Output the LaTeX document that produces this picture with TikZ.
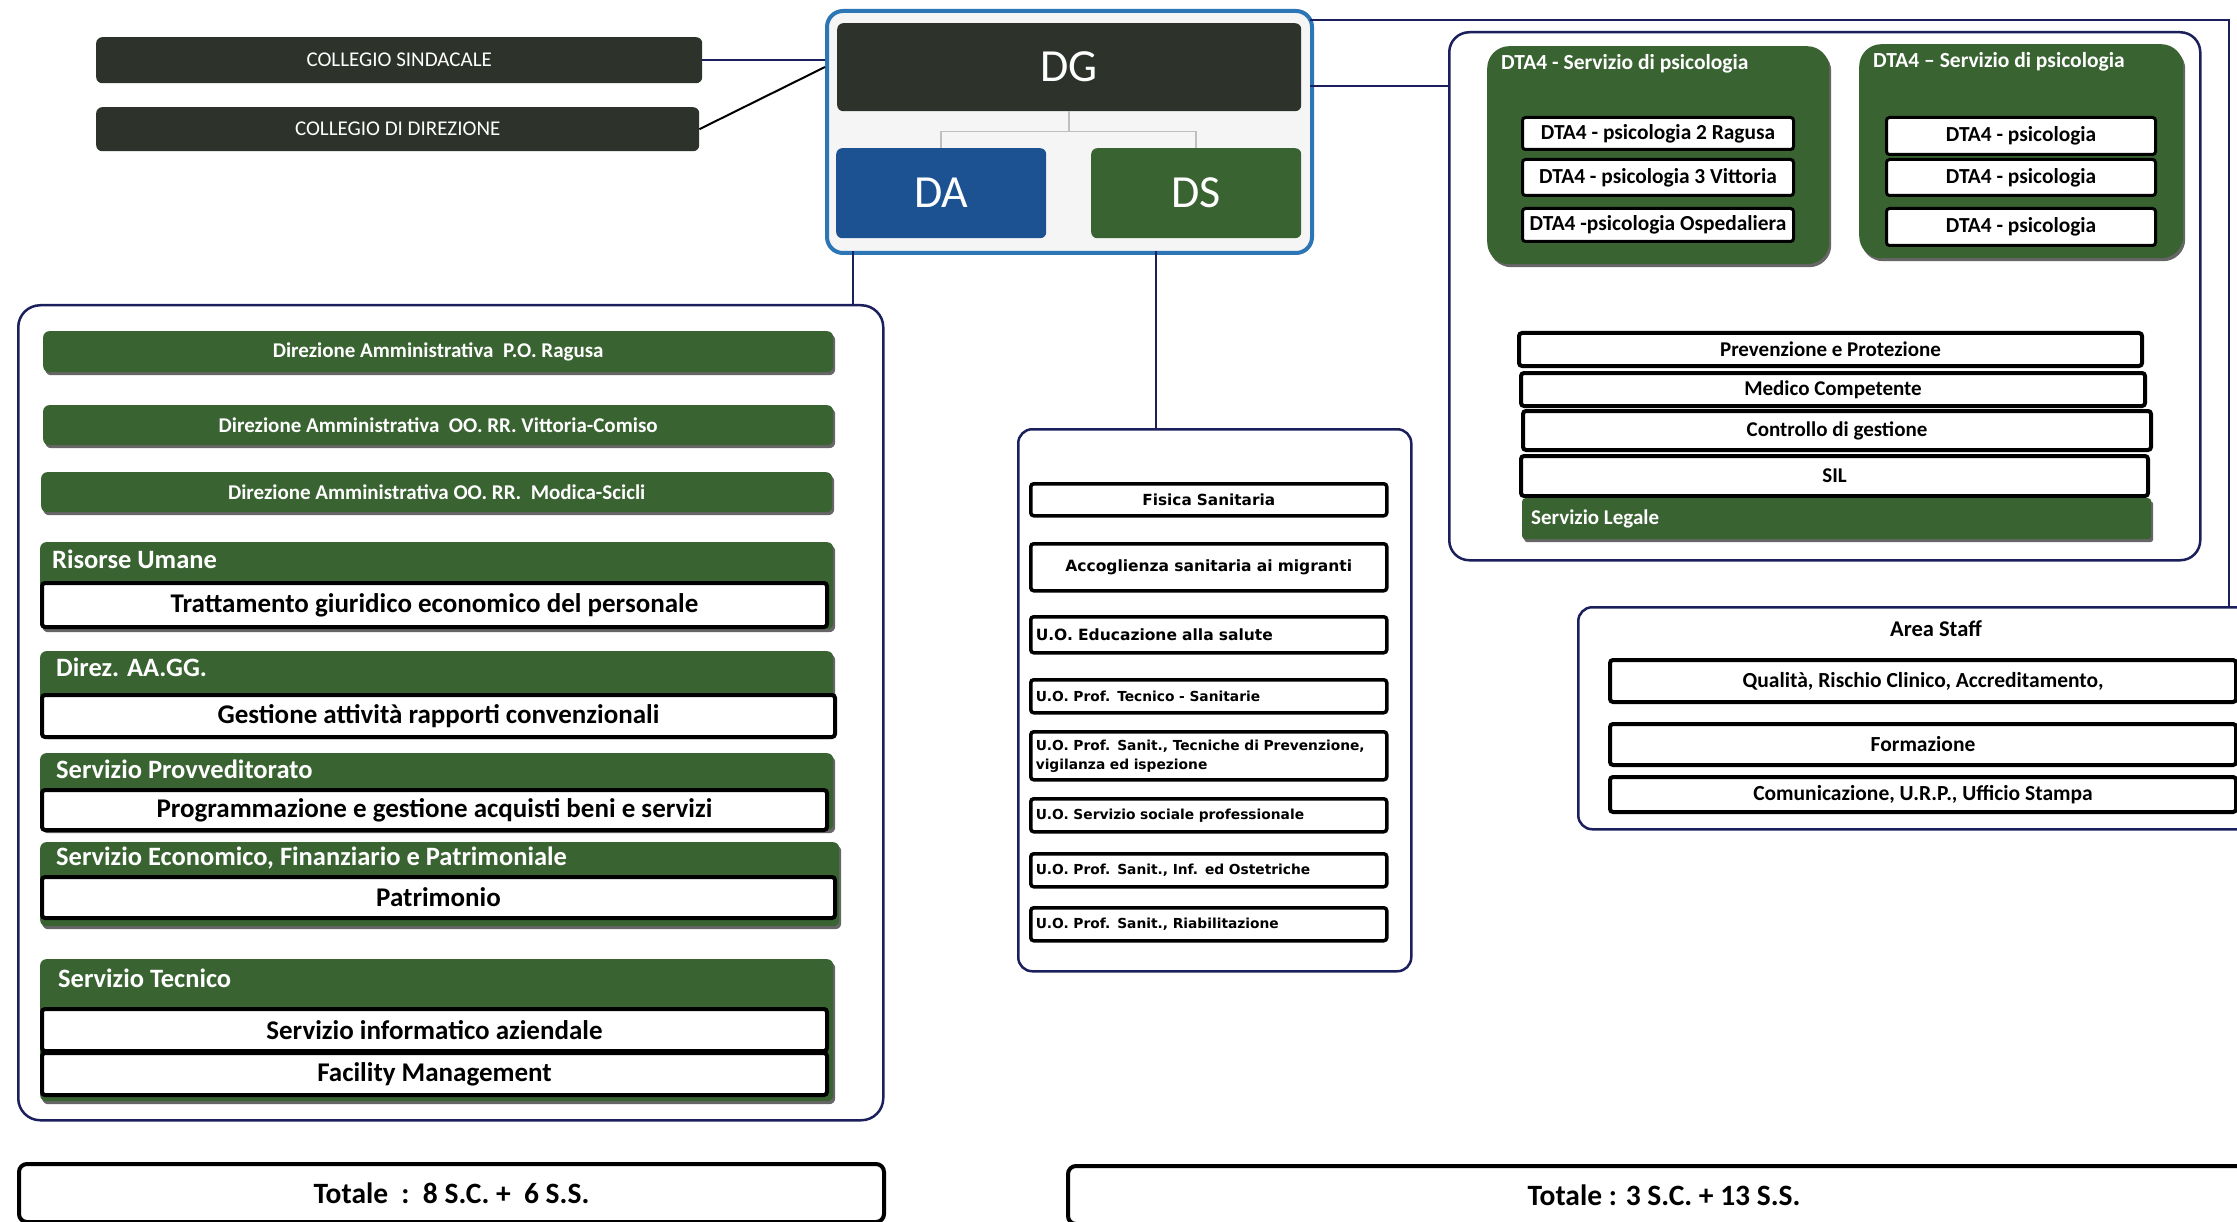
\documentclass[tikz,border=0pt]{standalone}
\usepackage{fontspec}
\setmainfont{Carlito}
\newfontfamily\dsfont{DejaVu Sans}
\usetikzlibrary{calc,shadows}
\definecolor{dkgrey}{RGB}{45,51,43}
\definecolor{grn}{RGB}{58,99,50}
\definecolor{dablue}{RGB}{28,82,146}
\definecolor{framebl}{RGB}{44,118,182}
\definecolor{navy}{RGB}{27,31,92}
\newcommand{\fsz}[1]{\fontsize{#1}{#1}\selectfont}
\tikzset{
	darkbox/.style={fill=dkgrey, rounded corners=6pt, text=white, anchor=north west, inner sep=0pt},
	greenbox/.style={fill=grn, rounded corners=6pt, text=white, anchor=north west, inner sep=0pt,
			drop shadow={shadow xshift=2pt, shadow yshift=-3pt, fill=black!75, opacity=.8}},
	whitebox/.style={draw=black, line width=4pt, fill=white, rounded corners=3pt, anchor=north west, inner sep=0pt},
	frame/.style={draw=navy, line width=2.5pt, rounded corners=22pt, anchor=north west, inner sep=0pt},
	link/.style={draw=navy, line width=2.5pt},
	title/.style={text=white, anchor=west, inner sep=0pt},
	dsbox/.style={whitebox, line width=3.5pt, font=\dsfont\bfseries\fsz{13.8}, text width=346pt, inner xsep=5pt, align=left},
}

\begin{document}
\begin{tikzpicture}[x=1pt, y=-1pt]
	\useasboundingbox[fill=white] (0,0) rectangle (2237,1222);

	% direzione generale
	\node[darkbox, minimum width=606pt, minimum height=46pt, font=\fsz{21}] (cs) at (96,37) {COLLEGIO SINDACALE};
	\node[darkbox, minimum width=603pt, minimum height=44pt, font=\fsz{21}] (cd) at (96,107) {COLLEGIO DI DIREZIONE};

	\node[anchor=north west, draw=framebl, line width=4pt, fill=black!4, rounded corners=16pt,
		minimum width=485pt, minimum height=242pt] (dgframe) at (825,9) {};
	\node[darkbox, minimum width=464pt, minimum height=88pt, font=\fsz{46}] (dg) at (837,23) {DG};
	\node[darkbox, fill=dablue, minimum width=210pt, minimum height=90pt, font=\fsz{46}] (da) at (836,148) {DA};
	\node[darkbox, fill=grn, minimum width=210pt, minimum height=90pt, font=\fsz{46}] (ds) at (1091,148) {DS};
	\draw[black!25, line width=1.5pt] (dg.south) -- ++(0,20) -| (da.north);
	\draw[black!25, line width=1.5pt] (dg.south) ++(0,20) -| (ds.north);

	\coordinate (cdin) at (825,67);
	\draw[link] (cs.east) -- (cs.east -| dgframe.west);
	\draw[black, line width=2pt] (cd.east) -- (cdin);

	% area amministrativa
	\node[frame, minimum width=865pt, minimum height=815pt] (daframe) at (17,304) {};
	\coordinate (daup) at (853,251);
	\draw[link] (daup) -- (daup |- daframe.north);

	\node[greenbox, minimum width=790pt, minimum height=41pt, font=\bfseries\fsz{21}] (dap1) at (43,331) {Direzione Amministrativa~~P.O. Ragusa};
	\node[greenbox, minimum width=790pt, minimum height=40pt, font=\bfseries\fsz{21}] (dap2) at (43,405) {Direzione Amministrativa~~OO. RR. Vittoria-Comiso};
	\node[greenbox, minimum width=791pt, minimum height=40pt, font=\bfseries\fsz{21}] (dap3) at (41,472) {Direzione Amministrativa OO. RR.~~Modica-Scicli};

	\node[greenbox, minimum width=793pt, minimum height=87pt] (ru) at (40,542) {};
	\node[title, font=\bfseries\fsz{26.5}] (rut) at (52,559) {Risorse Umane};
	\node[whitebox, minimum width=785pt, minimum height=44pt, font=\bfseries\fsz{27}] (ru1) at (40,581) {Trattamento giuridico economico del personale};

	\node[greenbox, minimum width=793pt, minimum height=85pt] (gg) at (40,651) {};
	\node[title, font=\bfseries\fsz{26.5}] (ggt) at (56,667) {Direz. AA.GG.};
	\node[whitebox, minimum width=793pt, minimum height=42pt, font=\bfseries\fsz{27}] (gg1) at (40,693) {Gestione attività rapporti convenzionali};

	\node[greenbox, minimum width=793pt, minimum height=77pt] (prov) at (40,753) {};
	\node[title, font=\bfseries\fsz{26.5}] (provt) at (56,769) {Servizio Provveditorato};
	\node[whitebox, minimum width=785pt, minimum height=40pt, font=\bfseries\fsz{27}] (prov1) at (40,788) {Programmazione e gestione acquisti beni e servizi};

	\node[greenbox, minimum width=799pt, minimum height=84pt] (eco) at (40,842) {};
	\node[title, font=\bfseries\fsz{26.5}] (ecot) at (56,858) {Servizio Economico, Finanziario e Patrimoniale};
	\node[whitebox, minimum width=793pt, minimum height=41pt, font=\bfseries\fsz{27}] (eco1) at (40,875) {Patrimonio};

	\node[greenbox, minimum width=793pt, minimum height=142pt] (tec) at (40,959) {};
	\node[title, font=\bfseries\fsz{26.5}] (tect) at (58,978) {Servizio Tecnico};
	\node[whitebox, minimum width=785pt, minimum height=42pt, font=\bfseries\fsz{27}] (tec1) at (40,1007) {Servizio informatico aziendale};
	\node[whitebox, minimum width=785pt, minimum height=42pt, font=\bfseries\fsz{27}] (tec2) at (40,1051) {Facility Management};

	\node[whitebox, rounded corners=8pt, minimum width=865pt, minimum height=58pt, font=\bfseries\fsz{29.5}] (totda) at (17,1162) {Totale~~:~~8 S.C. +~~6 S.S.};

	% area sanitaria
	\node[frame, rounded corners=14pt, minimum width=393pt, minimum height=542pt] (dsframe) at (1017,428) {};
	\coordinate (dsup) at (1156,251);
	\draw[link] (dsup) -- (dsup |- dsframe.north);

	\node[dsbox, align=center, font=\dsfont\bfseries\fsz{15.3}, minimum height=32pt] (fis) at (1029,482) {Fisica Sanitaria};
	\node[dsbox, align=center, font=\dsfont\bfseries\fsz{15.5}, minimum height=47pt] (acc) at (1029,542) {Accoglienza sanitaria ai migranti};
	\node[dsbox, font=\dsfont\bfseries\fsz{15.5}, minimum height=36pt] (edu) at (1029,615) {U.O. Educazione alla salute};
	\node[dsbox, minimum height=33pt] (tecs) at (1029,678) {U.O. Prof. Tecnico - Sanitarie};
	\node[dsbox, font=\dsfont\bfseries\fontsize{13.8}{19}\selectfont, minimum height=48pt] (prev) at (1029,730) {U.O. Prof. Sanit., Tecniche di Prevenzione,\\vigilanza ed ispezione};
	\node[dsbox, minimum height=33pt] (soc) at (1029,797) {U.O. Servizio sociale professionale};
	\node[dsbox, minimum height=33pt] (ost) at (1029,852) {U.O. Prof. Sanit., Inf. ed Ostetriche};
	\node[dsbox, minimum height=33pt] (riab) at (1029,906) {U.O. Prof. Sanit., Riabilitazione};

	\node[whitebox, rounded corners=8pt, minimum width=1192pt, minimum height=58pt, font=\bfseries\fsz{29.5}] (totds) at (1066,1164) {Totale : 3 S.C. + 13 S.S.};

	% staff e psicologia
	\node[frame, rounded corners=20pt, minimum width=751pt, minimum height=528pt] (dtaframe) at (1448,31) {};
	\coordinate (dtaout) at (1310,86);
	\draw[link] (dtaout) -- (dtaout -| dtaframe.west);

	\node[greenbox, rounded corners=22pt, minimum width=342pt, minimum height=218pt] (dta1) at (1487,46) {};
	\node[title, font=\bfseries\fsz{21.5}] (dta1t) at (1501,64) {DTA4 - Servizio di psicologia};
	\node[whitebox, line width=3pt, minimum width=271pt, minimum height=32pt, font=\bfseries\fsz{21.4}] (dta11) at (1521,116) {DTA4 - psicologia 2 Ragusa};
	\node[whitebox, line width=3pt, minimum width=271pt, minimum height=36pt, font=\bfseries\fsz{21.4}] (dta12) at (1521,158) {DTA4 - psicologia 3 Vittoria};
	\node[whitebox, line width=3pt, minimum width=271pt, minimum height=33pt, font=\bfseries\fsz{21.4}] (dta13) at (1521,207) {DTA4 -psicologia Ospedaliera};

	\node[greenbox, rounded corners=22pt, minimum width=324pt, minimum height=214pt] (dta2) at (1859,44) {};
	\node[title, font=\bfseries\fsz{21.5}] (dta2t) at (1873,62) {DTA4 -- Servizio di psicologia};
	\node[whitebox, line width=3pt, minimum width=269pt, minimum height=37pt, font=\bfseries\fsz{21.4}] (dta21) at (1885,116) {DTA4 - psicologia};
	\node[whitebox, line width=3pt, minimum width=269pt, minimum height=36pt, font=\bfseries\fsz{21.4}] (dta22) at (1885,158) {DTA4 - psicologia};
	\node[whitebox, line width=3pt, minimum width=269pt, minimum height=37pt, font=\bfseries\fsz{21.4}] (dta23) at (1885,207) {DTA4 - psicologia};

	\node[whitebox, minimum width=623pt, minimum height=33pt, font=\bfseries\fsz{21}] (pp) at (1517,331) {Prevenzione e Protezione};
	\node[whitebox, minimum width=624pt, minimum height=33pt, font=\bfseries\fsz{21}] (mc) at (1519,371) {Medico Competente};
	\node[whitebox, minimum width=628pt, minimum height=39pt, font=\bfseries\fsz{21}] (cg) at (1521,409) {Controllo di gestione};
	\node[whitebox, minimum width=627pt, minimum height=40pt, font=\bfseries\fsz{21}] (sil) at (1519,454) {SIL};
	\node[greenbox, drop shadow={opacity=0}, rounded corners=3pt, minimum width=629pt, minimum height=41pt] (leg) at (1522,498) {};
	\node[title, font=\bfseries\fsz{21}] (legt) at (1531,519) {Servizio Legale};

	\node[frame, rounded corners=14pt, minimum width=700pt, minimum height=222pt] (staff) at (1577,606) {};
	\node[font=\bfseries\fsz{22.5}] (stafft) at (1936,629) {Area Staff};
	\node[whitebox, minimum width=626pt, minimum height=42pt, font=\bfseries\fsz{21.5}] (qual) at (1608,658) {Qualità, Rischio Clinico, Accreditamento,};
	\node[whitebox, minimum width=626pt, minimum height=41pt, font=\bfseries\fsz{21.5}] (form) at (1608,722) {Formazione};
	\node[whitebox, minimum width=626pt, minimum height=35pt, font=\bfseries\fsz{21.5}] (comm) at (1608,775) {Comunicazione, U.R.P., Ufficio Stampa};

	\coordinate (topout) at (1310,20);
	\coordinate (staffin) at (2229,606);
	\draw[link] (topout) -| (staffin);
\end{tikzpicture}
\end{document}
